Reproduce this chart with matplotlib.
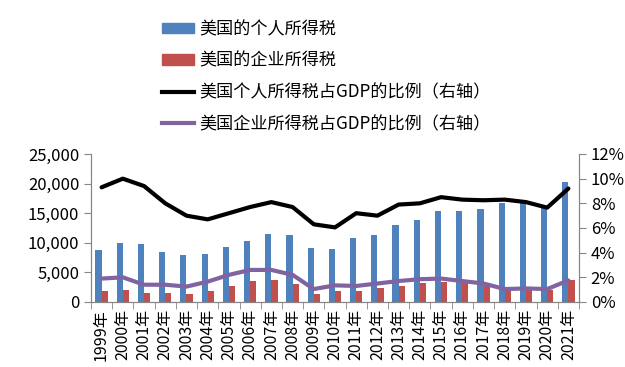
import numpy as np
import matplotlib
matplotlib.use("Agg")
import matplotlib.pyplot as plt
from matplotlib.ticker import FuncFormatter
from matplotlib.patches import Patch
from matplotlib.lines import Line2D

plt.rcParams['font.family'] = ['Noto Sans CJK SC', 'DejaVu Sans']

# 数据（十亿美元 / 占GDP比例 %）
years = [str(y) + "年" for y in range(1999, 2022)]
personal_tax = [8800, 10000, 9800, 8450, 7950, 8100, 9300, 10300, 11500, 11300, 9100, 8950,
                10800, 11300, 13000, 13850, 15400, 15400, 15700, 16700, 16800, 15900, 20300]
corporate_tax = [1850, 2000, 1500, 1500, 1350, 1850, 2700, 3550, 3700, 3000, 1350, 1850,
                 1850, 2350, 2700, 3200, 3400, 3200, 2700, 1850, 2000, 2000, 3700]
personal_gdp = [9.3, 10.0, 9.4, 8.0, 7.0, 6.7, 7.2, 7.7, 8.1, 7.7, 6.3, 6.05,
                7.2, 7.0, 7.9, 8.0, 8.5, 8.3, 8.25, 8.3, 8.1, 7.65, 9.2]
corporate_gdp = [1.9, 2.0, 1.4, 1.4, 1.25, 1.65, 2.2, 2.6, 2.6, 2.2, 1.05, 1.35,
                 1.3, 1.5, 1.7, 1.85, 1.9, 1.7, 1.5, 1.05, 1.1, 1.05, 1.75]

labels = ["美国的个人所得税", "美国的企业所得税",
          "美国个人所得税占GDP的比例（右轴）", "美国企业所得税占GDP的比例（右轴）"]
colors = ["#4F81BD", "#C0504D", "#000000", "#8064A2"]
grey = "#868686"

fig = plt.figure(figsize=(6.25, 3.67), dpi=100)
ax = fig.add_axes([91 / 625, 1 - 302 / 367, (579 - 91) / 625, (302 - 154) / 367])
ax2 = ax.twinx()

x = np.arange(len(years))
w = 0.29
ax.bar(x - w / 2, personal_tax, w, color=colors[0], zorder=2)
ax.bar(x + w / 2, corporate_tax, w, color=colors[1], zorder=2)

ax2.plot(x, personal_gdp, color=colors[2], lw=3, solid_capstyle='round')
ax2.plot(x, corporate_gdp, color=colors[3], lw=3, solid_capstyle='round')

ax.set_xlim(-0.5, len(years) - 0.5)
ax.set_ylim(0, 25000)
ax2.set_ylim(0, 12)
ax.set_yticks(range(0, 25001, 5000))
ax.yaxis.set_major_formatter(FuncFormatter(lambda v, p: f"{int(v):,}"))
ax2.set_yticks(range(0, 13, 2))
ax2.yaxis.set_major_formatter(FuncFormatter(lambda v, p: f"{int(v)}%"))

ax.set_xticks(x)
ax.set_xticklabels(years, rotation=90, fontsize=11.5)
ax.set_xticks(np.arange(-0.5, len(years), 1), minor=True)
ax.tick_params(axis='x', which='major', length=0, pad=5)
ax.tick_params(axis='x', which='minor', length=5, color=grey, direction='out')
ax.tick_params(axis='y', length=5, color=grey, labelsize=12)
ax2.tick_params(axis='y', length=5, color=grey, labelsize=12)

for a in (ax, ax2):
    a.spines['top'].set_visible(False)
    for s in ('left', 'right', 'bottom'):
        a.spines[s].set_color(grey)

handles = [Patch(color=colors[0]), Patch(color=colors[1]),
           Line2D([], [], color=colors[2], lw=3), Line2D([], [], color=colors[3], lw=3)]
fig.legend(handles, labels, loc='upper left', bbox_to_anchor=(162 / 625, 1 - 20 / 367),
           frameon=False, fontsize=12.3, handlelength=1.9, handleheight=0.55,
           handletextpad=0.3, labelspacing=0.8, borderpad=0, borderaxespad=0)

fig.savefig("out.png", dpi=100)
